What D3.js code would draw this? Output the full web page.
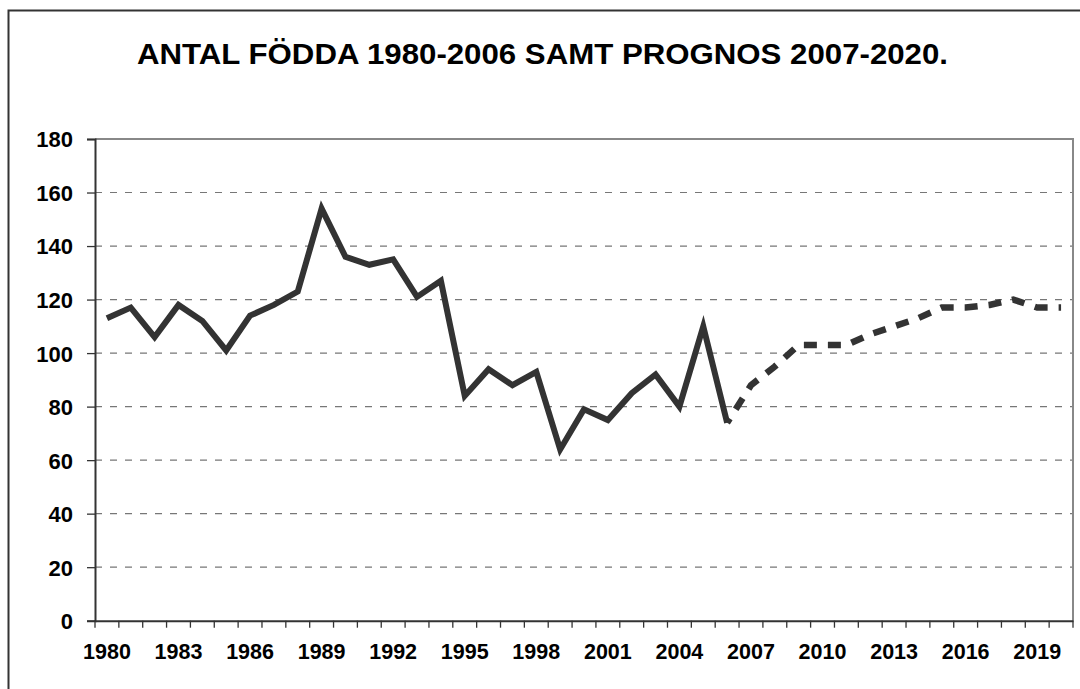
<!DOCTYPE html>
<html>
<head>
<meta charset="utf-8">
<script src="https://cdn.jsdelivr.net/npm/d3@7/dist/d3.min.js"></script>
<style>
	html, body { margin: 0; padding: 0; background: #fff; }
	.chart { width: 1080px; height: 689px; }
	text { font-family: Arial, "Liberation Sans", sans-serif; font-weight: bold; fill: #000; }
</style>
</head>
<body>
<div class="chart"></div>
<script>
var title = 'ANTAL FÖDDA 1980-2006 SAMT PROGNOS 2007-2020.';

var years = [1980, 1981, 1982, 1983, 1984, 1985, 1986, 1987, 1988, 1989,
	1990, 1991, 1992, 1993, 1994, 1995, 1996, 1997, 1998, 1999,
	2000, 2001, 2002, 2003, 2004, 2005, 2006, 2007, 2008, 2009,
	2010, 2011, 2012, 2013, 2014, 2015, 2016, 2017, 2018, 2019, 2020];

// utfall 1980-2006
var birthYears = [1980, 1981, 1982, 1983, 1984, 1985, 1986, 1987, 1988, 1989,
	1990, 1991, 1992, 1993, 1994, 1995, 1996, 1997, 1998, 1999,
	2000, 2001, 2002, 2003, 2004, 2005, 2006];
var births = [113, 117, 106, 118, 112, 101, 114, 118, 123, 154,
	136, 133, 135, 121, 127, 84, 94, 88, 93, 64,
	79, 75, 85, 92, 80, 110, 74];

// prognos, starts at last known year
var forecastYears = [2006, 2007, 2008, 2009, 2010, 2011, 2012, 2013,
	2014, 2015, 2016, 2017, 2018, 2019, 2020];
var forecast = [74, 88, 95, 103, 103, 103, 107, 110,
	113, 117, 117, 118, 120, 117, 117];

var yTicks = [0, 20, 40, 60, 80, 100, 120, 140, 160, 180];
var xLabels = [1980, 1983, 1986, 1989, 1992, 1995, 1998, 2001, 2004, 2007, 2010, 2013, 2016, 2019];

;(function(window, document, undefined) {

	'use strict';

	function init() {
		render();
	}

	function render() {
		var width = 1080, height = 689;
		var left = 95, right = 1073, top = 139, bottom = 620.7;

		var svg = d3.select('.chart')
			.append('svg')
			.attr('width', width)
			.attr('height', height);

		// outer frame (runs off the right and bottom edge)
		svg.append('rect')
			.attr('x', 8.5)
			.attr('y', 10.5)
			.attr('width', 1100)
			.attr('height', 700)
			.attr('fill', 'none')
			.attr('stroke', '#333')
			.attr('stroke-width', 2);

		svg.append('text')
			.attr('x', 137)
			.attr('y', 64)
			.attr('textLength', 811)
			.attr('lengthAdjust', 'spacingAndGlyphs')
			.style('font-size', '29px')
			.text(title);

		var x = d3.scaleBand()
			.domain(years)
			.range([left, right]);

		var y = d3.scaleLinear()
			.domain([0, 180])
			.range([bottom, top]);

		// grid
		svg.append('g')
			.selectAll('line')
			.data(yTicks.filter(function(d) { return d > 0 && d < 180; }))
			.enter()
			.append('line')
			.attr('x1', left)
			.attr('x2', right)
			.attr('y1', function(d) { return y(d); })
			.attr('y2', function(d) { return y(d); })
			.attr('stroke', '#777')
			.attr('stroke-width', 1.2)
			.attr('stroke-dasharray', '7,8');

		// plot frame top / right
		svg.append('path')
			.attr('d', 'M' + left + ',' + y(180) + 'H' + right + 'V' + bottom)
			.attr('fill', 'none')
			.attr('stroke', '#888')
			.attr('stroke-width', 2);

		// y axis
		var yAxis = d3.axisLeft(y)
			.tickValues(yTicks)
			.tickSize(8)
			.tickPadding(14);
		var gy = svg.append('g')
			.attr('transform', 'translate(' + left + ',0)')
			.call(yAxis);
		gy.select('.domain').attr('stroke', '#333').attr('stroke-width', 2);
		gy.selectAll('.tick line').attr('stroke', '#333').attr('stroke-width', 1.3);
		gy.selectAll('.tick text')
			.attr('dy', '0.36em')
			.style('font-size', '22px')
			.attr('fill', '#000');

		// x axis: ticks between categories, labels every third year
		var xAxis = d3.axisBottom(x)
			.tickValues(xLabels)
			.tickSize(0)
			.tickPadding(24);
		var gx = svg.append('g')
			.attr('transform', 'translate(0,' + bottom + ')')
			.call(xAxis);
		gx.select('.domain').attr('stroke', '#333').attr('stroke-width', 2);
		gx.selectAll('.tick text')
			.attr('dy', '0.68em')
			.style('font-size', '21.5px')
			.attr('fill', '#000');

		gx.selectAll('line.sep')
			.data(years.concat([null]))
			.enter()
			.append('line')
			.attr('class', 'sep')
			.attr('x1', function(d) { return d === null ? right : x(d); })
			.attr('x2', function(d) { return d === null ? right : x(d); })
			.attr('y1', 0)
			.attr('y2', 7)
			.attr('stroke', '#333')
			.attr('stroke-width', 1.3);

		var cx = function(d) { return x(d) + x.bandwidth() / 2; };

		var line = d3.line()
			.x(function(d) { return cx(d[0]); })
			.y(function(d) { return y(d[1]); });

		svg.append('path')
			.datum(d3.zip(birthYears, births))
			.attr('d', line)
			.attr('fill', 'none')
			.attr('stroke', '#333')
			.attr('stroke-width', 6)
			.attr('stroke-linejoin', 'miter');

		svg.append('path')
			.datum(d3.zip(forecastYears, forecast))
			.attr('d', line)
			.attr('fill', 'none')
			.attr('stroke', '#333')
			.attr('stroke-width', 6.5)
			.attr('stroke-dasharray', '13,11')
			.attr('stroke-dashoffset', 8);
	}

	init();

})(window, document);
</script>
</body>
</html>
